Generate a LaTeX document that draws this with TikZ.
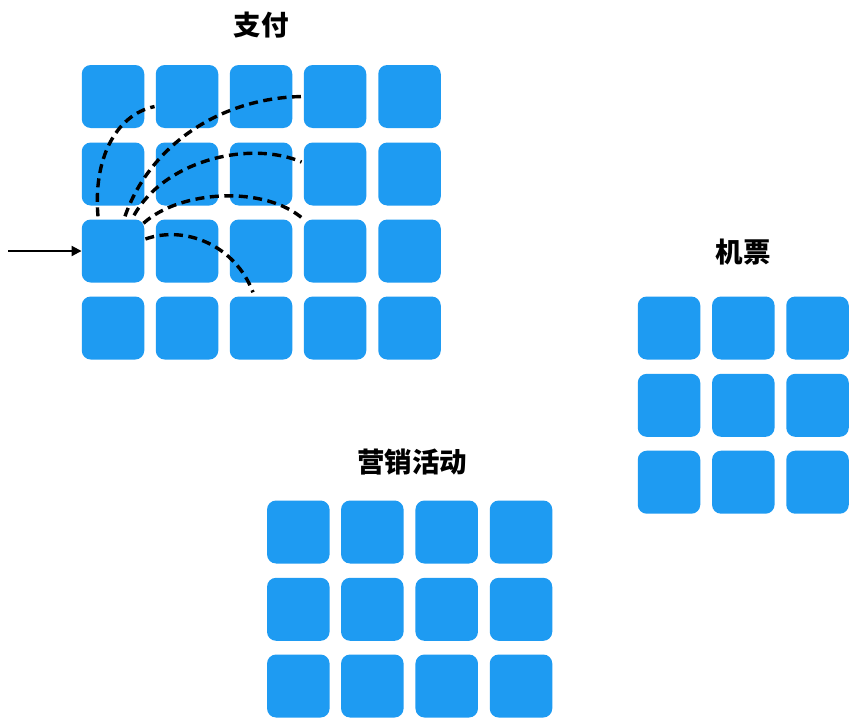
\documentclass[tikz,border=0pt]{standalone}
\usepackage{fontspec}
\newfontfamily\cjk{Noto Sans CJK SC}
\usetikzlibrary{calc,arrows.meta}
\definecolor{cellblue}{RGB}{30,155,242}
\tikzset{
  cell/.style={fill=cellblue, rounded corners=9pt, minimum width=62.5pt, minimum height=63pt, inner sep=0pt, draw=none},
  title/.style={font=\cjk\bfseries\fontsize{27.5}{30}\selectfont, inner sep=0pt},
  path dash/.style={dash pattern=on 9pt off 5.5pt, line width=3.4pt, black},
  inarrow/.style={-{Triangle[length=10pt,width=10pt]}, line width=2pt, black}
}
\begin{document}
\begin{tikzpicture}[x=1pt,y=-1pt]
\useasboundingbox[fill=white] (0,0) rectangle (850,717);
% Grid 1
\foreach \r/\y in {1/96.5,2/174,3/251,4/328}{
  \foreach \c/\x in {1/113,2/187,3/261,4/335,5/409.5}{
    \node[cell] (a\r\c) at (\x,\y) {};
  }
}
\node[title] (t1) at (261,25.5) {支付};
% Grid 2
\foreach \r/\y in {1/328,2/405.3,3/482.2}{
  \foreach \c/\x in {1/669,2/743.3,3/817.5}{
    \node[cell] (b\r\c) at (\x,\y) {};
  }
}
\node[title] (t2) at (743,252) {机票};
% Grid 3
\foreach \r/\y in {1/532,2/609.3,3/686}{
  \foreach \c/\x in {1/298.3,2/372.3,3/446.7,4/521}{
    \node[cell] (m\r\c) at (\x,\y) {};
  }
}
\node[title] (t3) at (412,462) {营销活动};
% arrow
\coordinate (src) at (8,251);
\draw[inarrow] (src) -- (a31.west);
% dashed curves
\draw[path dash] ($(a31.north)+(-15,-3)$) .. controls (93,160) and (115,115) .. ($(a12.west)+(-1,10)$);
\draw[path dash] ($(a31.north)+(12,-3)$) .. controls (148,150) and (215,98) .. ($(a14.west)+(-1,0)$);
\draw[path dash] ($(a31.north)+(21,-4)$) .. controls (165,160) and (250,140) .. ($(a24.west)+(-2,-12)$);
\draw[path dash] ($(a31.north east)+(-1,4)$) .. controls (180,190) and (265,185) .. (a34.north west);
\draw[path dash] ($(a31.east)+(1,-12)$) .. controls (185,225) and (235,245) .. ($(a43.north)+(-8,-4)$);
\end{tikzpicture}
\end{document}
